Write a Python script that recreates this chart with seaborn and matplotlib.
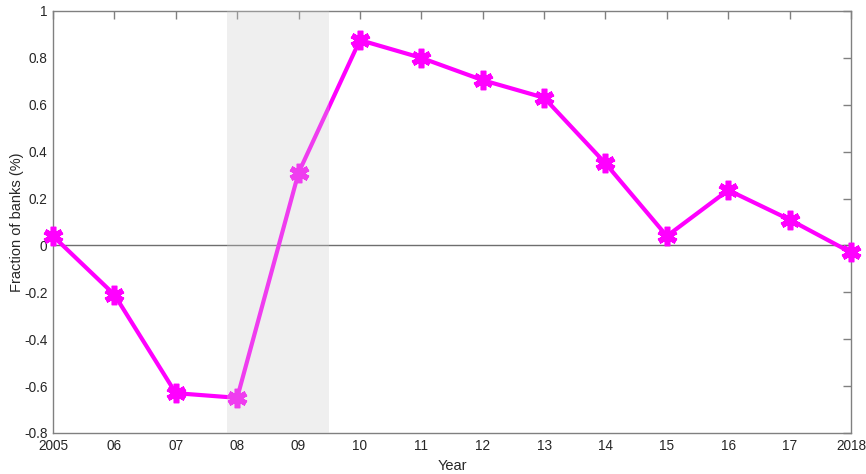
import matplotlib
matplotlib.use("Agg")
import matplotlib.pyplot as plt
import seaborn as sns
import pandas as pd

sns.set_theme(style="white")
plt.rcParams["font.family"] = ["Liberation Sans", "DejaVu Sans"]

years = [2005, 2006, 2007, 2008, 2009, 2010, 2011, 2012, 2013, 2014, 2015, 2016, 2017, 2018]
fraction = [0.04, -0.21, -0.63, -0.65, 0.31, 0.876, 0.80, 0.705, 0.63, 0.35, 0.04, 0.236, 0.11, -0.03]
tick_labels = ["2005", "06", "07", "08", "09", "10", "11", "12", "13", "14", "15", "16", "17", "2018"]
recession = (2007.83, 2009.5)

df = pd.DataFrame({"Year": years, "Fraction": fraction})

fig = plt.figure(figsize=(8.66, 4.74), dpi=100)
ax = fig.add_axes([0.0612, 0.0865, 0.9215, 0.8903])

sns.lineplot(data=df, x="Year", y="Fraction", ax=ax, color="#ff00ff",
             linewidth=3, marker=(6, 2, 0), markersize=14,
             markeredgewidth=4, markeredgecolor="#ff00ff", clip_on=False, zorder=3)

ax.axvspan(*recession, facecolor="#cccccc", alpha=0.3, linewidth=0, zorder=4)
ax.axhline(0, color="#6e6e6e", linewidth=1, zorder=2)

ax.set_xlim(2005, 2018)
ax.set_ylim(-0.8, 1)
ax.set_xticks(years)
ax.set_xticklabels(tick_labels)
ax.set_yticks([-0.8, -0.6, -0.4, -0.2, 0, 0.2, 0.4, 0.6, 0.8, 1])
ax.set_yticklabels(["-0.8", "-0.6", "-0.4", "-0.2", "0", "0.2", "0.4", "0.6", "0.8", "1"])

ax.tick_params(axis="both", direction="in", length=6, width=1, color="#808080",
               labelsize=9.8, labelcolor="#262626", top=True, right=True, pad=4)
for side in ["left", "right", "top", "bottom"]:
    ax.spines[side].set_visible(True)
    ax.spines[side].set_color("#808080")
    ax.spines[side].set_linewidth(1)

ax.set_xlabel("Year", fontsize=10.5, color="#262626", labelpad=5)
ax.set_ylabel("Fraction of banks (%)", fontsize=10.5, color="#262626", labelpad=0)

fig.savefig("out.png", dpi=100)
